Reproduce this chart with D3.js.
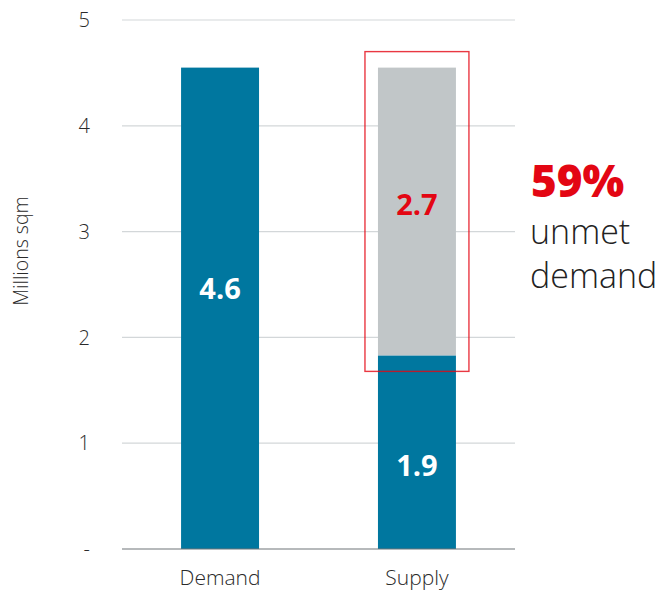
<!DOCTYPE html>
<html>
<head>
<meta charset="utf-8">
<script src="https://cdn.jsdelivr.net/npm/d3@7"></script>
<style>
  html, body { margin: 0; padding: 0; background: #fff; }
  svg { display: block; }
  text { font-family: "Open Sans", "Noto Sans", sans-serif; }
</style>
</head>
<body>
<svg id="chart" width="662" height="595"></svg>
<script>
// ---- data ----
const categories = ["Demand", "Supply"];
const metValues = [4.55, 1.83];      // blue segment
const unmetValues = [0, 2.72];       // grey segment (unmet demand)
const valueLabels = ["4.6", "1.9"];
const unmetLabels = ["", "2.7"];
const yTicks = [0, 1, 2, 3, 4, 5];
const yTickLabels = ["-", "1", "2", "3", "4", "5"];
const yAxisTitle = "Millions sqm";
const calloutPct = "59%";
const calloutLines = ["unmet", "demand"];

// ---- layout ----
const svg = d3.select("#chart");
const plotLeft = 122, plotRight = 515, plotTop = 20, plotBottom = 549;
const blue = "#00779f", grey = "#c1c6c8", red = "#e30613";

const x = d3.scaleBand().domain(categories).range([plotLeft, plotRight]).paddingInner(0.604).paddingOuter(0.3);
const y = d3.scaleLinear().domain([0, 5]).range([plotBottom, plotTop]);

// gridlines
svg.append("g").selectAll("line").data(yTicks.filter(d => d > 0)).join("line")
  .attr("x1", plotLeft).attr("x2", plotRight)
  .attr("y1", d => y(d)).attr("y2", d => y(d))
  .attr("stroke", "#d3d7d9").attr("stroke-width", 1.2);

// y tick labels
svg.append("g").selectAll("text").data(yTicks).join("text")
  .attr("x", 90).attr("y", d => y(d))
  .attr("dy", "0.36em")
  .attr("text-anchor", "end")
  .attr("font-size", 20).attr("font-weight", 300).attr("fill", "#2a2a2a")
  .text((d, i) => yTickLabels[i]);

// y axis title
svg.append("text")
  .attr("transform", `translate(28,251) rotate(-90)`)
  .attr("text-anchor", "middle")
  .attr("font-size", 19.5).attr("font-weight", 300).attr("fill", "#2a2a2a")
  .text(yAxisTitle);

// bars: met (blue)
svg.append("g").selectAll("rect").data(categories).join("rect")
  .attr("x", d => x(d)).attr("width", x.bandwidth())
  .attr("y", (d, i) => y(metValues[i]))
  .attr("height", (d, i) => y(0) - y(metValues[i]))
  .attr("fill", blue);

// bars: unmet (grey)
svg.append("g").selectAll("rect").data(categories.filter((d, i) => unmetValues[i] > 0)).join("rect")
  .attr("x", d => x(d)).attr("width", x.bandwidth())
  .attr("y", d => { const i = categories.indexOf(d); return y(metValues[i] + unmetValues[i]); })
  .attr("height", d => { const i = categories.indexOf(d); return y(metValues[i]) - y(metValues[i] + unmetValues[i]); })
  .attr("fill", grey);

// baseline
svg.append("line")
  .attr("x1", plotLeft).attr("x2", plotRight)
  .attr("y1", y(0)).attr("y2", y(0))
  .attr("stroke", "#6e7478").attr("stroke-width", 1.2);

// x labels
svg.append("g").selectAll("text").data(categories).join("text")
  .attr("x", d => x(d) + x.bandwidth() / 2).attr("y", 585)
  .attr("text-anchor", "middle")
  .attr("font-size", 21).attr("font-weight", 300).attr("fill", "#2a2a2a")
  .text(d => d);

// value labels (blue)
const labelOffsets = [-20, 13];
svg.append("g").selectAll("text").data(categories).join("text")
  .attr("x", d => x(d) + x.bandwidth() / 2)
  .attr("y", (d, i) => y(metValues[i] / 2) + labelOffsets[i])
  .attr("dy", "0.36em")
  .attr("text-anchor", "middle")
  .attr("font-size", 29).attr("font-weight", 700).attr("fill", "#fff")
  .text((d, i) => valueLabels[i]);

// unmet labels (red)
svg.append("g").selectAll("text").data(categories.filter((d, i) => unmetValues[i] > 0)).join("text")
  .attr("x", d => x(d) + x.bandwidth() / 2)
  .attr("y", d => { const i = categories.indexOf(d); return y(metValues[i] + unmetValues[i] / 2) - 7; })
  .attr("dy", "0.36em")
  .attr("text-anchor", "middle")
  .attr("font-size", 29).attr("font-weight", 700).attr("fill", red)
  .text(d => unmetLabels[categories.indexOf(d)]);

// red highlight box around unmet segment
{
  const i = 1, d = categories[i];
  const top = y(metValues[i] + unmetValues[i]) - 16;
  const bottom = y(metValues[i]) + 16;
  svg.append("rect")
    .attr("x", x(d) - 13).attr("y", top)
    .attr("width", x.bandwidth() + 26).attr("height", bottom - top)
    .attr("fill", "none").attr("stroke", red).attr("stroke-opacity", 0.8).attr("stroke-width", 1.4);
}

// callout
svg.append("text")
  .attr("x", 531).attr("y", 197)
  .attr("font-size", 44).attr("font-weight", 800).attr("fill", red)
  .text(calloutPct);
svg.append("g").selectAll("text").data(calloutLines).join("text")
  .attr("x", 530).attr("y", (d, i) => 244 + i * 44)
  .attr("font-size", 34).attr("font-weight", 300).attr("fill", "#222")
  .text(d => d);
</script>
</body>
</html>
